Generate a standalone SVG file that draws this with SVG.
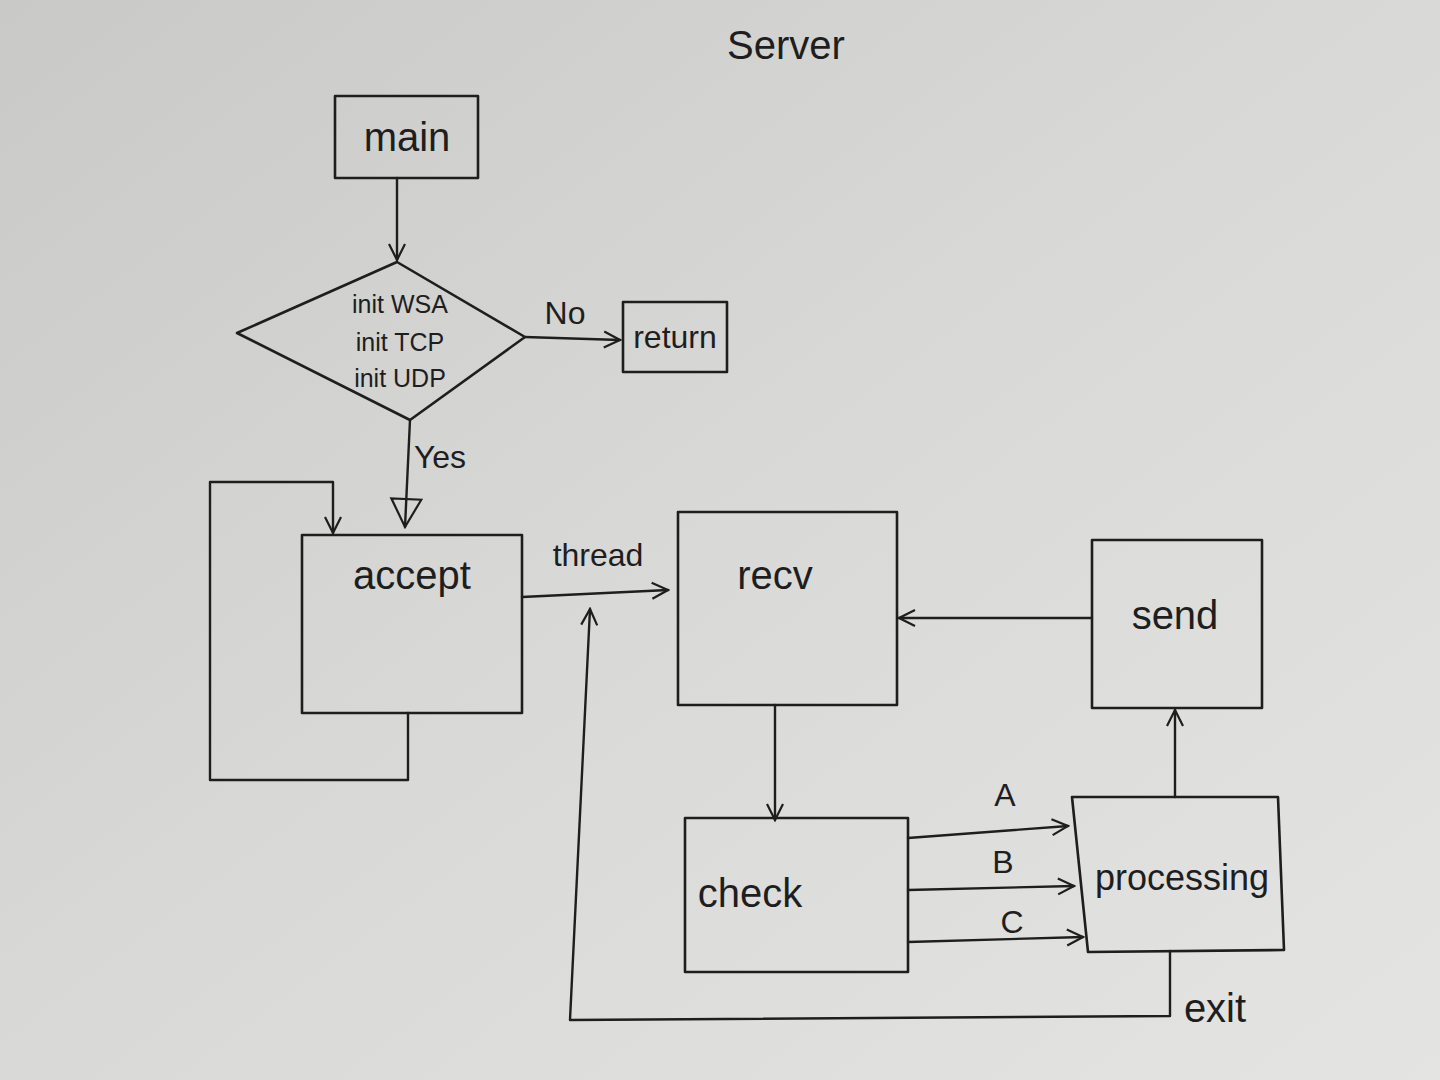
<svg xmlns="http://www.w3.org/2000/svg" width="1440" height="1080" viewBox="0 0 1440 1080">
<defs>
<linearGradient id="bg" x1="0" y1="0" x2="1" y2="1">
<stop offset="0" stop-color="#c9c9c7"/>
<stop offset="0.5" stop-color="#d9d9d7"/>
<stop offset="1" stop-color="#e4e4e2"/>
</linearGradient>
<marker id="open" viewBox="0 0 20 20" refX="18" refY="10" markerWidth="20" markerHeight="20" markerUnits="userSpaceOnUse" orient="auto">
<path d="M2,2 L18,10 L2,18" fill="none" stroke="#1e1e1e" stroke-width="2.2"/>
</marker>
<marker id="hollow" viewBox="0 0 34 34" refX="32" refY="17" markerWidth="34" markerHeight="34" markerUnits="userSpaceOnUse" orient="auto">
<path d="M4,2 L32,17 L4,32 Z" fill="none" stroke="#1e1e1e" stroke-width="2.2"/>
</marker>
</defs>
<style>
.box{fill:none;stroke:#1e1e1e;stroke-width:2.6;stroke-linejoin:round}
.ln{fill:none;stroke:#1e1e1e;stroke-width:2.4;stroke-linecap:round;stroke-linejoin:round}
.t{font-family:"Liberation Sans","DejaVu Sans",sans-serif;fill:#1e1e1e;text-anchor:middle;dominant-baseline:central}
.big{font-size:40px}
.mid{font-size:32px}
.sm{font-size:25px}
</style>
<rect x="0" y="0" width="1440" height="1080" fill="url(#bg)"/>
<text class="t big" x="786" y="45">Server</text>

<g id="main">
<rect class="box" x="335" y="96" width="143" height="82"/>
<text class="t big" x="407" y="137">main</text>
</g>
<g id="init">
<polygon class="box" points="237,333 397,262 525,337 410,420"/>
<text class="t sm" x="400" y="304">init WSA</text>
<text class="t sm" x="400" y="342">init TCP</text>
<text class="t sm" x="400" y="378">init UDP</text>
</g>
<g id="return">
<rect class="box" x="623" y="302" width="104" height="70"/>
<text class="t mid" x="675" y="337">return</text>
</g>
<g id="accept">
<rect class="box" x="302" y="535" width="220" height="178"/>
<text class="t big" x="412" y="575">accept</text>
</g>
<g id="recv">
<rect class="box" x="678" y="512" width="219" height="193"/>
<text class="t big" x="775" y="575">recv</text>
</g>
<g id="send">
<rect class="box" x="1092" y="540" width="170" height="168"/>
<text class="t big" x="1175" y="615">send</text>
</g>
<g id="check">
<rect class="box" x="685" y="818" width="223" height="154"/>
<text class="t big" x="750" y="893">check</text>
</g>
<g id="processing">
<polygon class="box" points="1072,797 1278,797 1284,950 1088,952"/>
<text class="t big" x="1182" y="877" style="font-size:36px">processing</text>
</g>

<g id="connectors">
<path class="ln" d="M397,178 L397,260" marker-end="url(#open)"/>
<path class="ln" d="M525,337 L620,340" marker-end="url(#open)"/>
<text class="t mid" x="565" y="313">No</text>
<path class="ln" d="M410,420 L405,527" marker-end="url(#hollow)"/>
<text class="t mid" x="440" y="457">Yes</text>
<path class="ln" d="M408,713 L408,780 L210,780 L210,482 L333,482 L333,533" marker-end="url(#open)"/>
<path class="ln" d="M522,597 L668,590" marker-end="url(#open)"/>
<text class="t mid" x="598" y="555">thread</text>
<path class="ln" d="M1092,618 L899,618" marker-end="url(#open)"/>
<path class="ln" d="M775,705 L775,820" marker-end="url(#open)"/>
<path class="ln" d="M908,838 L1068,826" marker-end="url(#open)"/>
<text class="t mid" x="1005" y="795">A</text>
<path class="ln" d="M908,890 L1074,886" marker-end="url(#open)"/>
<text class="t mid" x="1003" y="862">B</text>
<path class="ln" d="M908,942 L1083,937" marker-end="url(#open)"/>
<text class="t mid" x="1012" y="922">C</text>
<path class="ln" d="M1175,797 L1175,710" marker-end="url(#open)"/>
<path class="ln" d="M1170,951 L1170,1016 L570,1020 L590,609" marker-end="url(#open)"/>
<text class="t big" x="1215" y="1008">exit</text>
</g>
</svg>
